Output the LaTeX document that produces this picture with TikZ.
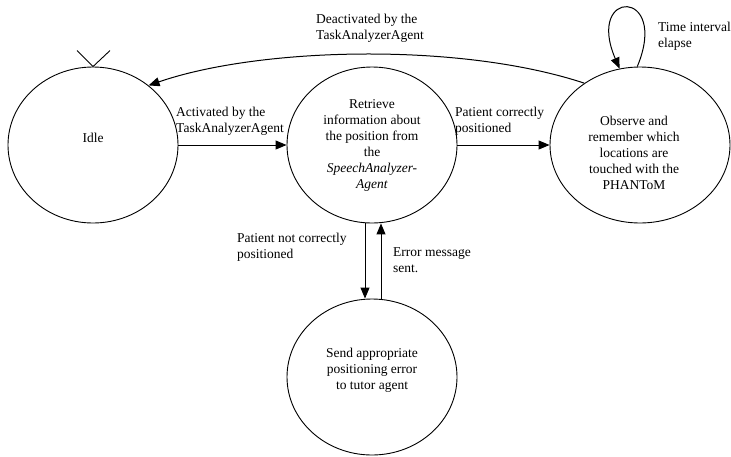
\documentclass[tikz,border=0pt]{standalone}
\usepackage{fontspec}
\setmainfont{Liberation Serif}
\newfontfamily\diagfont{Liberation Serif}
\usetikzlibrary{arrows.meta,shapes.geometric,calc}
\begin{document}
\begin{tikzpicture}[x=1pt,y=-1pt,
  state/.style={draw,ellipse,line width=0.9pt,inner sep=0pt,minimum width=170pt,minimum height=156pt},
  txt/.style={inner sep=0pt,font=\diagfont\fontsize{13.5}{16}\selectfont},
  lbl/.style={txt,align=left,anchor=north west},
  ctext/.style={txt,align=center},
  edge/.style={line width=1pt,-{Triangle[length=11pt,width=9pt]}}]
\useasboundingbox (0,0) rectangle (731,456);
% states
\node[state] (idle) at (93,145) {};
\node[state] (mid) at (372,145) {};
\node[state,minimum width=180pt] (obs) at (640,145) {};
\node[state] (err) at (372,377) {};
% state texts
\node[ctext] (idletxt) at (93,138) {Idle};
\node[ctext] (midtxt) at (372,145) {Retrieve\\information about\\the position from\\the\\\textit{SpeechAnalyzer-}\\\textit{Agent}};
\node[ctext] (obstxt) at (634,153) {Observe and\\remember which\\locations are\\touched with the\\PHANToM};
\node[ctext] (errtxt) at (372,370) {Send appropriate\\positioning error\\to tutor agent};
% initial marker
\draw[line width=0.9pt] ($(idle.north)+(-16,-16)$) -- (idle.north) -- ($(idle.north)+(17,-16)$);
% transitions
\draw[edge] (idle.east) -- (mid.west);
\draw[edge] (mid.east) -- (obs.west);
\draw[edge] ($(mid.south)+(-7,0)$) -- ($(err.north)+(-7,0)$);
\draw[edge] ($(err.north)+(9,0)$) -- ($(mid.south)+(9,0)$);
\draw[edge] (obs.132) .. controls (460,42) and (260,47) .. (idle.47);
\draw[edge] (obs.92) .. controls (670,-12) and (585,-12) .. (obs.105);
% labels
\node[lbl] (deact) at (316,14) {Deactivated by the\\TaskAnalyzerAgent};
\node[lbl] (act) at (176,107) {Activated by the\\TaskAnalyzerAgent};
\node[lbl] (pcp) at (455,107) {Patient correctly\\positioned};
\node[lbl] (pnc) at (237,233) {Patient not correctly\\positioned};
\node[lbl] (ems) at (393,247) {Error message\\sent.};
\node[lbl] (tie) at (658,22) {Time interval\\elapse};
\end{tikzpicture}
\end{document}
